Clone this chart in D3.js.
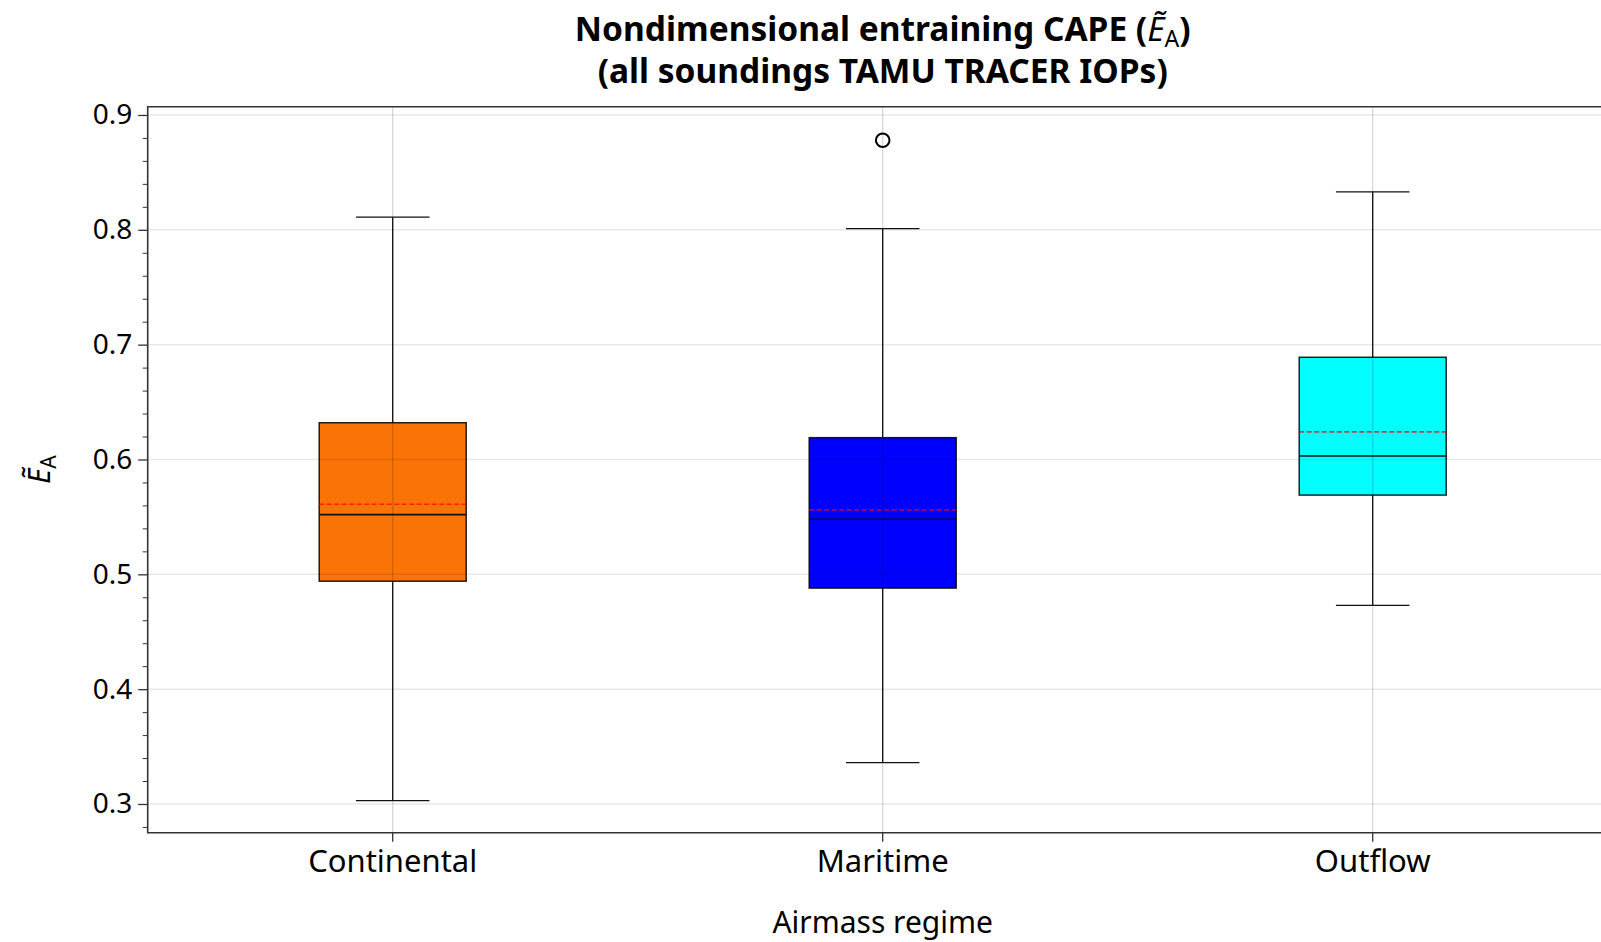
<!DOCTYPE html>
<html>
<head>
<meta charset="utf-8">
<script src="https://cdn.jsdelivr.net/npm/d3@7"></script>
<style>
  body { margin: 0; background: #fff; }
  text { font-family: "Noto Sans", sans-serif; fill: #000; }
</style>
</head>
<body>
<div id="main"></div>
<script>
(function(){

  // values
  const categories = ["Continental", "Maritime", "Outflow"]
  const whiskerLow = [0.303, 0.336, 0.473]
  const q1 = [0.494, 0.488, 0.569]
  const median = [0.552, 0.548, 0.603]
  const mean = [0.561, 0.556, 0.624]
  const q3 = [0.632, 0.619, 0.689]
  const whiskerHigh = [0.811, 0.801, 0.833]
  const outliers = [[], [0.878], []]
  const boxColors = ["#f97306", "#0000ff", "#00ffff"]
  const yTicks = [0.3, 0.4, 0.5, 0.6, 0.7, 0.8, 0.9]

  const width = 1601
  const height = 942
  const plot = { left: 147.7, right: 1617.7, top: 106.7, bottom: 832.7 }

  const data = categories.map((c, i) => ({
    name: c, lo: whiskerLow[i], q1: q1[i], med: median[i], mean: mean[i],
    q3: q3[i], hi: whiskerHigh[i], out: outliers[i], color: boxColors[i]
  }))

  const svg = d3.select("#main").append("svg")
    .attr("width", width)
    .attr("height", height)

  const xScale = d3.scaleBand()
    .domain(categories)
    .range([plot.left, plot.right])
    .padding(0)

  const yScale = d3.scaleLinear()
    .domain([0.275, 0.9072])
    .range([plot.bottom, plot.top])

  const cx = d => xScale(d.name) + xScale.bandwidth() / 2
  const boxW = xScale.bandwidth() * 0.3
  const capW = boxW / 2

  // axes
  const yAxis = d3.axisLeft(yScale)
    .tickValues(yTicks)
    .tickFormat(d3.format(".1f"))
    .tickSize(9.5)
    .tickPadding(6)
    .tickSizeOuter(0)

  const yMinor = d3.axisLeft(yScale)
    .tickValues(d3.range(28, 91, 2).map(v => v / 100).filter(v => Math.round(v * 100) % 10 !== 0))
    .tickSize(5)
    .tickFormat("")
    .tickSizeOuter(0)

  const xAxis = d3.axisBottom(xScale)
    .tickSize(9)
    .tickPadding(8)
    .tickSizeOuter(0)

  svg.append("g")
    .attr("transform", `translate(0,${plot.bottom})`)
    .call(xAxis)
    .call(g => g.select(".domain").remove())
    .call(g => g.selectAll(".tick line").attr("stroke", "#333").attr("stroke-width", 1.3))
    .call(g => g.selectAll(".tick text").attr("font-size", 31).attr("font-family", "Noto Sans"))

  svg.append("g")
    .attr("transform", `translate(${plot.left},0)`)
    .call(yAxis)
    .call(g => g.select(".domain").remove())
    .call(g => g.selectAll(".tick line").attr("stroke", "#333").attr("stroke-width", 1.3))
    .call(g => g.selectAll(".tick text").attr("font-size", 28).attr("font-family", "Noto Sans"))

  svg.append("g")
    .attr("transform", `translate(${plot.left},0)`)
    .call(yMinor)
    .call(g => g.select(".domain").remove())
    .call(g => g.selectAll(".tick line").attr("stroke", "#333").attr("stroke-width", 1))

  // boxes
  const boxes = svg.append("g").selectAll("g")
    .data(data)
    .join("g")

  boxes.append("line")
    .attr("x1", cx).attr("x2", cx)
    .attr("y1", d => yScale(d.q3)).attr("y2", d => yScale(d.hi))
    .attr("stroke", "#111").attr("stroke-width", 1.3)

  boxes.append("line")
    .attr("x1", cx).attr("x2", cx)
    .attr("y1", d => yScale(d.q1)).attr("y2", d => yScale(d.lo))
    .attr("stroke", "#111").attr("stroke-width", 1.3)

  boxes.append("line")
    .attr("x1", d => cx(d) - capW / 2).attr("x2", d => cx(d) + capW / 2)
    .attr("y1", d => yScale(d.hi)).attr("y2", d => yScale(d.hi))
    .attr("stroke", "#111").attr("stroke-width", 1.3)

  boxes.append("line")
    .attr("x1", d => cx(d) - capW / 2).attr("x2", d => cx(d) + capW / 2)
    .attr("y1", d => yScale(d.lo)).attr("y2", d => yScale(d.lo))
    .attr("stroke", "#111").attr("stroke-width", 1.3)

  boxes.append("rect")
    .attr("x", d => cx(d) - boxW / 2)
    .attr("width", boxW)
    .attr("y", d => yScale(d.q3))
    .attr("height", d => yScale(d.q1) - yScale(d.q3))
    .attr("fill", d => d.color)
    .attr("stroke", "rgba(0,0,0,0.85)")
    .attr("stroke-width", 1.5)

  boxes.append("line")
    .attr("x1", d => cx(d) - boxW / 2).attr("x2", d => cx(d) + boxW / 2)
    .attr("y1", d => yScale(d.med)).attr("y2", d => yScale(d.med))
    .attr("stroke", "#111").attr("stroke-width", 1.6)

  boxes.append("line")
    .attr("x1", d => cx(d) - boxW / 2).attr("x2", d => cx(d) + boxW / 2)
    .attr("y1", d => yScale(d.mean)).attr("y2", d => yScale(d.mean))
    .attr("stroke", "rgba(255,0,0,0.75)").attr("stroke-width", 1.7)
    .attr("stroke-dasharray", "5,2.5")

  boxes.selectAll("circle")
    .data(d => d.out.map(v => ({ name: d.name, v })))
    .join("circle")
    .attr("cx", cx)
    .attr("cy", d => yScale(d.v))
    .attr("r", 6.8)
    .attr("fill", "none")
    .attr("stroke", "#000")
    .attr("stroke-width", 2)

  // grid on top, translucent
  svg.append("g").selectAll("line")
    .data(yTicks)
    .join("line")
    .attr("x1", plot.left).attr("x2", width)
    .attr("y1", d => yScale(d)).attr("y2", d => yScale(d))
    .attr("stroke", "rgba(0,0,0,0.09)").attr("stroke-width", 1.5)

  svg.append("g").selectAll("line")
    .data(data)
    .join("line")
    .attr("x1", cx).attr("x2", cx)
    .attr("y1", plot.top).attr("y2", plot.bottom)
    .attr("stroke", "rgba(0,0,0,0.17)").attr("stroke-width", 1.2)

  // spines (right one falls outside the window)
  svg.append("path")
    .attr("d", `M${width},${plot.top}H${plot.left}V${plot.bottom}H${width}`)
    .attr("fill", "none")
    .attr("stroke", "#333")
    .attr("stroke-width", 1.6)

  // titles and labels
  const midX = (plot.left + plot.right) / 2

  const t1 = svg.append("text")
    .attr("x", midX).attr("y", 41)
    .attr("text-anchor", "middle")
    .attr("font-size", 33.5)
  t1.append("tspan").attr("font-weight", "bold").text("Nondimensional entraining CAPE (")
  t1.append("tspan").attr("font-style", "italic").text("E\u0303")
  t1.append("tspan").attr("font-size", 23).attr("dy", 6).text("A")
  t1.append("tspan").attr("font-weight", "bold").attr("dy", -6).text(")")

  svg.append("text")
    .attr("x", midX).attr("y", 83)
    .attr("text-anchor", "middle")
    .attr("font-size", 33.5)
    .attr("font-weight", "bold")
    .text("(all soundings TAMU TRACER IOPs)")

  svg.append("text")
    .attr("x", midX).attr("y", 933)
    .attr("text-anchor", "middle")
    .attr("font-size", 30)
    .text("Airmass regime")

  const yl = svg.append("text")
    .attr("transform", `translate(50,${(plot.top + plot.bottom) / 2}) rotate(-90)`)
    .attr("text-anchor", "middle")
    .attr("font-size", 30)
  yl.append("tspan").attr("font-style", "italic").text("E\u0303")
  yl.append("tspan").attr("font-size", 21).attr("dy", 6).text("A")

}())
</script>
</body>
</html>
